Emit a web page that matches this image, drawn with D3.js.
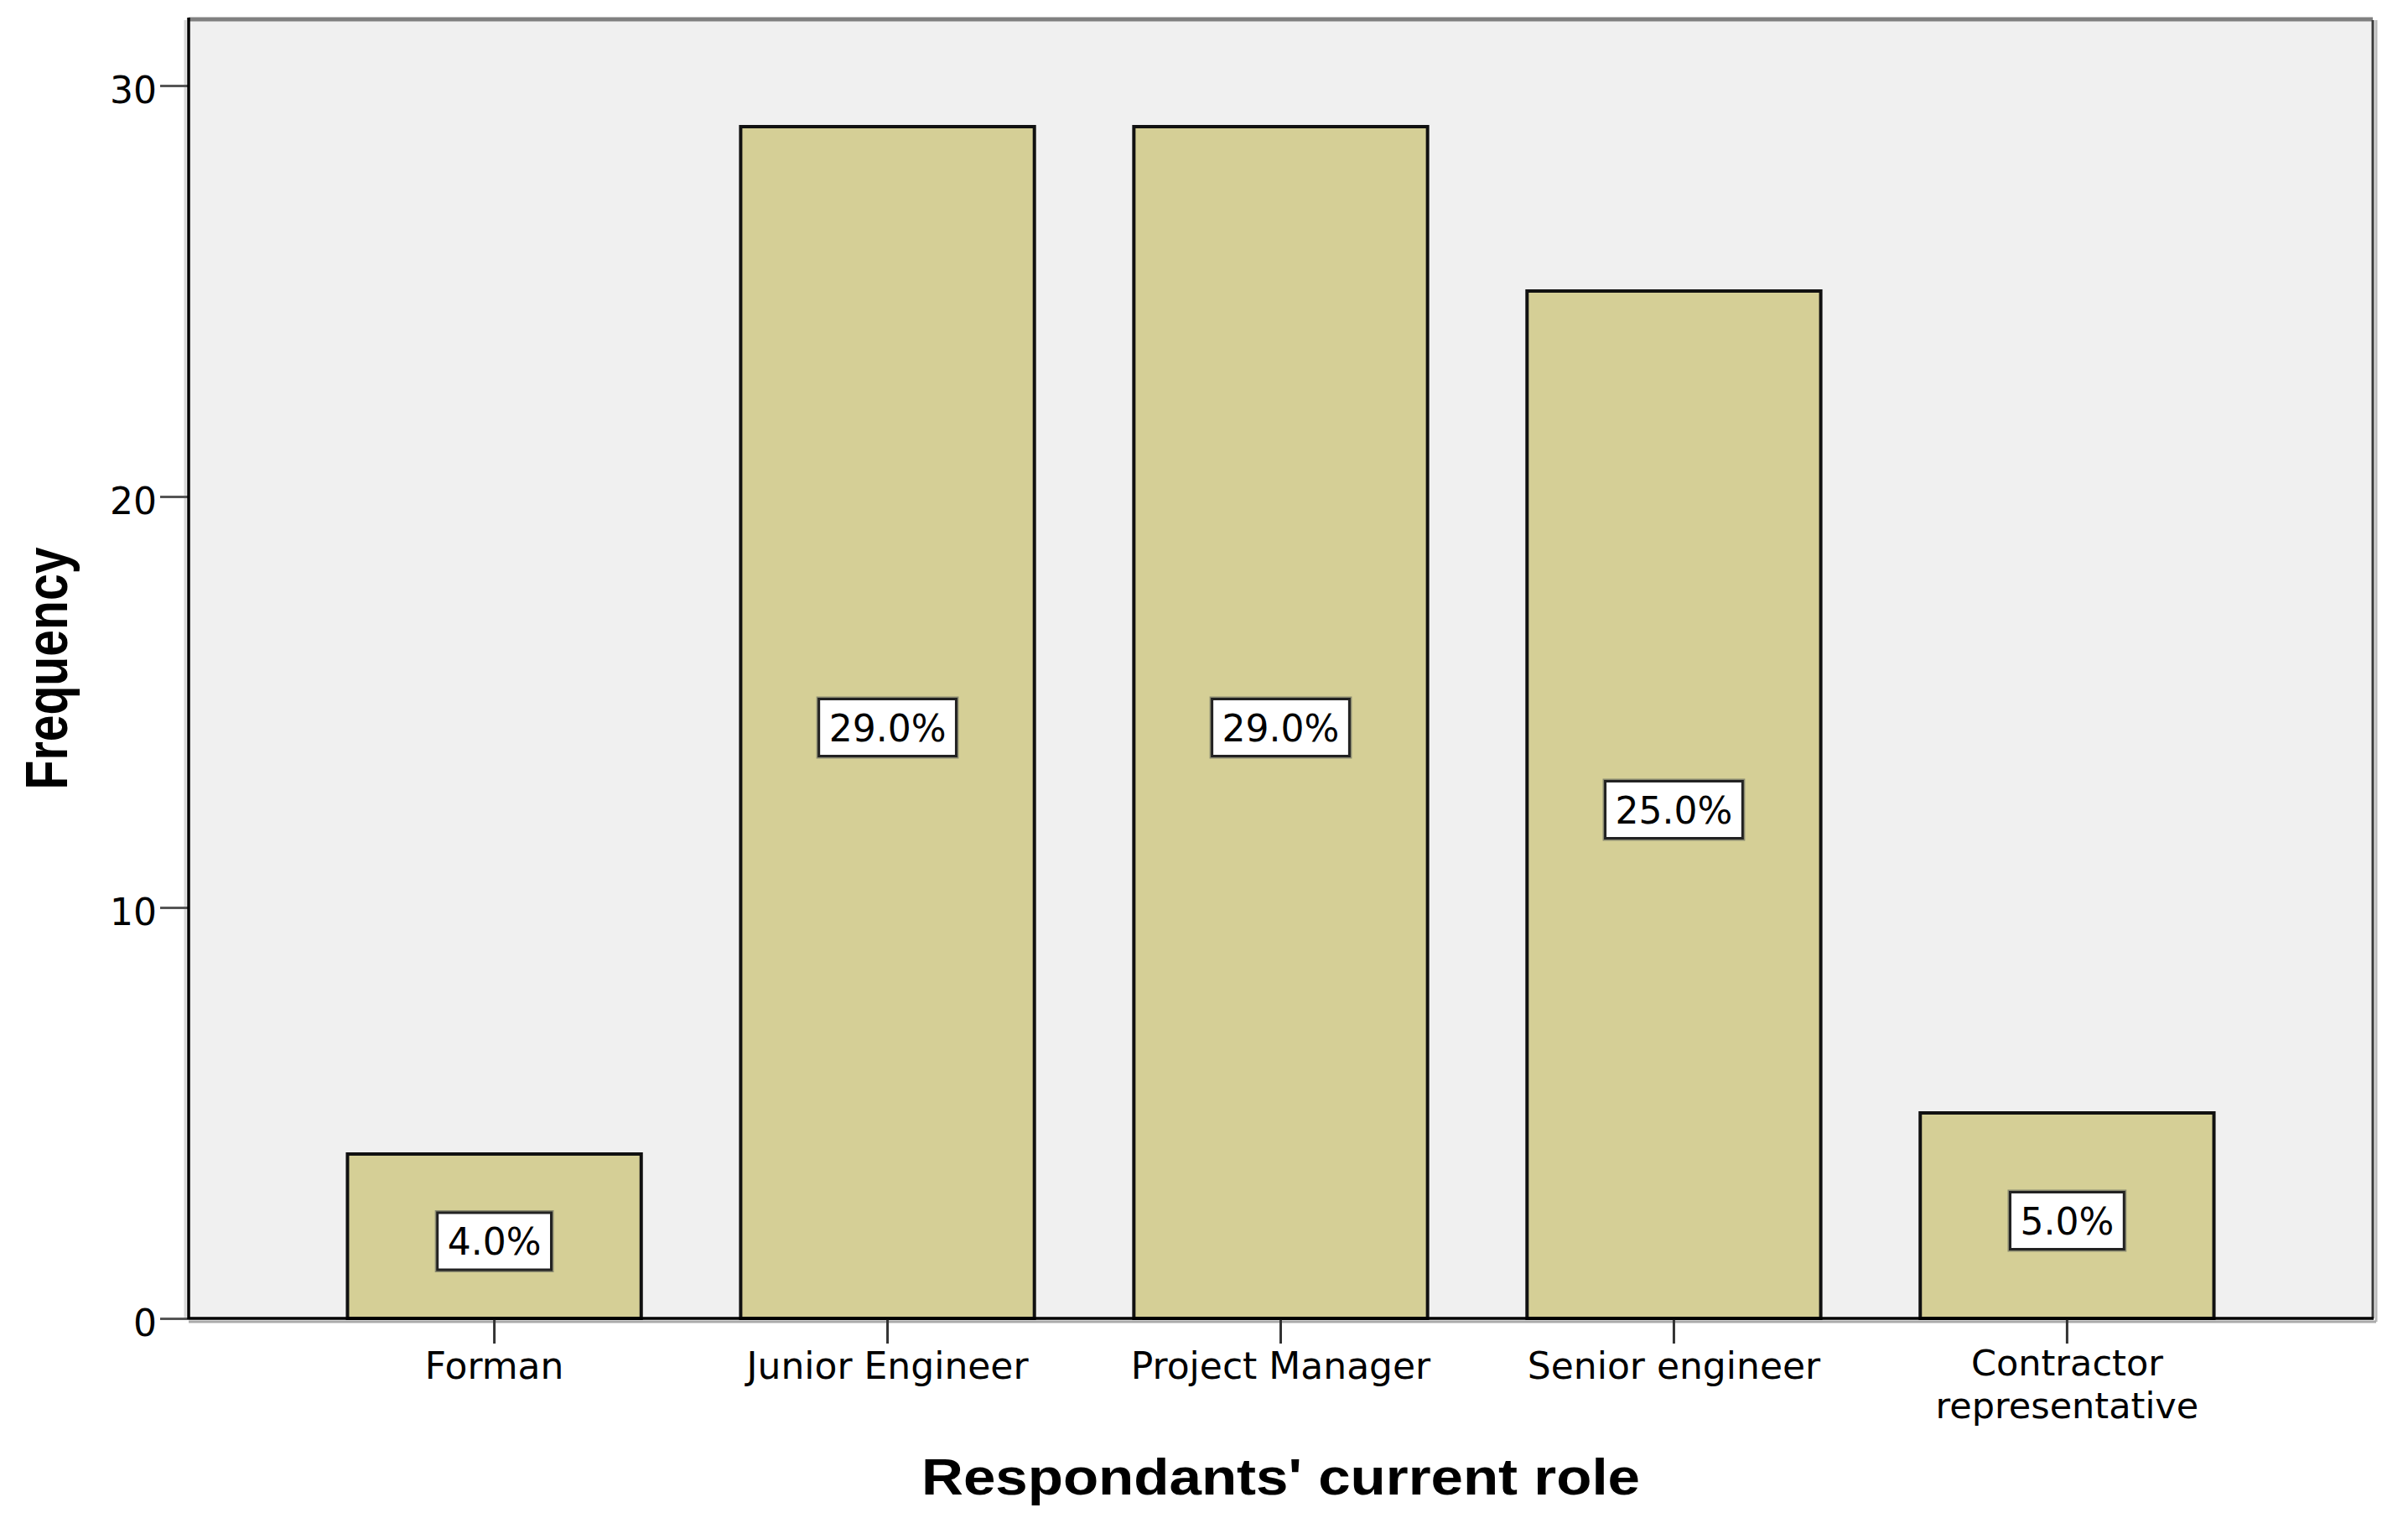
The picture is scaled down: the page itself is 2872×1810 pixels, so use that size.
<!DOCTYPE html>
<html lang="en">
<head>
  <meta charset="utf-8">
  <title>Respondants' current role</title>
  <script src="https://d3js.org/d3.v7.min.js"></script>
  <style>
    body {
      margin: 0;
      padding: 0;
      background-color: #ffffff;
    }
    svg {
      display: block;
    }
    .tick text {
      font-family: "DejaVu Sans", sans-serif;
      font-size: 44px;
      fill: #000;
    }
  </style>
</head>
<body>
  <svg id="chart" width="2872" height="1810"></svg>

  <script>
    const width = 2872;
    const height = 1810;

    // chart data
    const roles = ["Forman", "Junior Engineer", "Project Manager", "Senior engineer", "Contractor representative"];
    const frequencies = [4, 29, 29, 25, 5];
    const percentLabels = ["4.0%", "29.0%", "29.0%", "25.0%", "5.0%"];
    const yTicks = [0, 10, 20, 30];

    const plot = { left: 225, right: 2830, top: 24, bottom: 1572 };

    const svg = d3.select("#chart")
      .attr("width", width)
      .attr("height", height);

    const x = d3.scaleBand()
      .domain(roles)
      .range([plot.left, plot.right])
      .paddingInner(0.253)
      .paddingOuter(0.404);

    const y = d3.scaleLinear()
      .domain([0, 30])
      .range([plot.bottom, 102]);

    // plot background + frame
    svg.append("rect")
      .attr("x", plot.left)
      .attr("y", plot.top)
      .attr("width", plot.right - plot.left)
      .attr("height", plot.bottom - plot.top)
      .attr("fill", "#f0f0f0");

    // light shadows around frame
    svg.append("line")
      .attr("x1", plot.left - 4).attr("x2", plot.left - 4)
      .attr("y1", plot.top).attr("y2", plot.bottom)
      .attr("stroke", "#d8d8d8").attr("stroke-width", 3);
    svg.append("line")
      .attr("x1", plot.right + 4).attr("x2", plot.right + 4)
      .attr("y1", plot.top).attr("y2", plot.bottom + 4)
      .attr("stroke", "#bbbbbb").attr("stroke-width", 3);
    svg.append("line")
      .attr("x1", plot.left).attr("x2", plot.right + 4)
      .attr("y1", plot.bottom + 4).attr("y2", plot.bottom + 4)
      .attr("stroke", "#aaaaaa").attr("stroke-width", 3);

    svg.append("line")
      .attr("x1", plot.left).attr("x2", plot.right)
      .attr("y1", plot.top - 1).attr("y2", plot.top - 1)
      .attr("stroke", "#808080").attr("stroke-width", 5);
    svg.append("line")
      .attr("x1", plot.right).attr("x2", plot.right)
      .attr("y1", plot.top).attr("y2", plot.bottom)
      .attr("stroke", "#3a3a3a").attr("stroke-width", 3);

    // bars
    const barG = svg.append("g");
    barG.selectAll("rect")
      .data(roles)
      .join("rect")
      .attr("x", d => x(d))
      .attr("y", (d, i) => y(frequencies[i]))
      .attr("width", x.bandwidth())
      .attr("height", (d, i) => y(0) - y(frequencies[i]))
      .attr("fill", "#d5cf96")
      .attr("stroke", "#111")
      .attr("stroke-width", 4);

    // axes
    const yAxis = svg.append("g")
      .attr("transform", `translate(${plot.left},0)`)
      .call(d3.axisLeft(y).tickValues(yTicks).tickSize(34).tickPadding(4));
    yAxis.select(".domain").remove();
    yAxis.selectAll(".tick line").attr("stroke", "#555").attr("stroke-width", 3);
    yAxis.selectAll(".tick text").attr("dy", null).attr("y", 20).attr("x", -38);

    const xAxis = svg.append("g")
      .attr("transform", `translate(0,${plot.bottom})`)
      .call(d3.axisBottom(x).tickSize(30).tickFormat(""));
    xAxis.select(".domain").remove();
    xAxis.selectAll(".tick line").attr("stroke", "#333").attr("stroke-width", 3);

    // category labels (the long one goes on two lines)
    xAxis.selectAll(".tick").each(function(d) {
      const lines = d === "Contractor representative" ? ["Contractor", "representative"] : [d];
      const twoLines = lines.length > 1;
      lines.forEach((ln, i) => {
        d3.select(this).append("text")
          .attr("text-anchor", "middle")
          .attr("x", 0)
          .attr("y", twoLines ? 68 + i * 51 : 72)
          .style("font-size", twoLines ? "43px" : null)
          .text(ln);
      });
    });

    // axis lines
    svg.append("line")
      .attr("x1", plot.left).attr("x2", plot.left)
      .attr("y1", plot.top - 3).attr("y2", plot.bottom + 1)
      .attr("stroke", "#000").attr("stroke-width", 3.5);
    svg.append("line")
      .attr("x1", plot.left).attr("x2", plot.right + 1)
      .attr("y1", plot.bottom).attr("y2", plot.bottom)
      .attr("stroke", "#000").attr("stroke-width", 3.5);

    // percentage label boxes
    const labelG = svg.append("g")
      .selectAll("g")
      .data(roles)
      .join("g")
      .attr("transform", (d, i) => `translate(${x(d) + x.bandwidth() / 2},${y(frequencies[i] / 2) + 6})`);

    labelG.append("text")
      .attr("text-anchor", "middle")
      .attr("y", 16)
      .attr("font-family", "DejaVu Sans, sans-serif")
      .attr("font-size", 44)
      .attr("fill", "#000")
      .text((d, i) => percentLabels[i]);

    labelG.each(function() {
      const g = d3.select(this);
      const bb = g.select("text").node().getBBox();
      const w = bb.width + 24;
      g.insert("rect", "text")
        .attr("x", -w / 2 - 2)
        .attr("y", -36)
        .attr("width", w + 4)
        .attr("height", 72)
        .attr("fill", "none")
        .attr("stroke", "#8a8a70")
        .attr("stroke-width", 2);
      g.insert("rect", "text")
        .attr("x", -w / 2)
        .attr("y", -34)
        .attr("width", w)
        .attr("height", 68)
        .attr("fill", "#fff")
        .attr("stroke", "#222")
        .attr("stroke-width", 3);
    });

    // axis titles
    svg.append("text")
      .attr("x", (plot.left + plot.right) / 2)
      .attr("y", 1782)
      .attr("text-anchor", "middle")
      .attr("font-family", "Liberation Sans, Arial, sans-serif")
      .attr("font-weight", "bold")
      .attr("font-size", 61)
      .attr("textLength", 857)
      .attr("lengthAdjust", "spacingAndGlyphs")
      .text("Respondants' current role");

    svg.append("text")
      .attr("transform", "translate(80,797) rotate(-90)")
      .attr("text-anchor", "middle")
      .attr("font-family", "Liberation Sans, Arial, sans-serif")
      .attr("font-weight", "bold")
      .attr("font-size", 70)
      .attr("textLength", 289)
      .attr("lengthAdjust", "spacingAndGlyphs")
      .text("Frequency");
  </script>
</body>
</html>
